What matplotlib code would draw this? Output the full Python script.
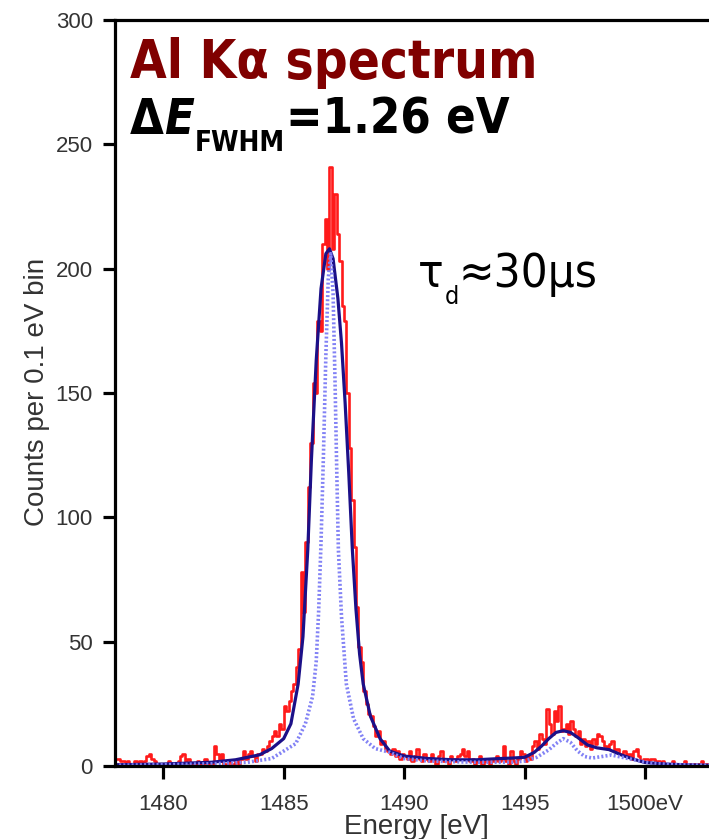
import matplotlib
matplotlib.use("Agg")
import matplotlib.pyplot as plt
import numpy as np

# measured counts, 0.1 eV bins starting at 1478.0 eV (one row per eV)
bin_start = 1478.0
bin_width = 0.1
counts = [
    3, 3, 2, 2, 1, 2, 1, 0, 2, 1,            # 1478
    2, 1, 2, 4, 5, 3, 2, 1, 0, 1,            # 1479
    1, 0, 2, 1, 1, 0, 2, 4, 5, 2,            # 1480
    3, 1, 0, 1, 2, 1, 0, 3, 1, 0,            # 1481
    1, 8, 5, 2, 5, 1, 0, 2, 1, 0,            # 1482
    2, 1, 3, 6, 3, 5, 6, 4, 2, 5,            # 1483
    5, 7, 6, 8, 10, 12, 14, 12, 17, 15,      # 1484
    24, 22, 26, 30, 33, 40, 47, 78, 62, 90,  # 1485
    112, 130, 154, 150, 179, 175, 210, 220, 200, 241,  # 1486
    208, 230, 214, 203, 185, 179, 150, 128, 107, 88,   # 1487
    64, 48, 42, 30, 25, 21, 20, 16, 12, 14,  # 1488
    9, 10, 7, 6, 5, 7, 4, 6, 3, 5,           # 1489
    4, 3, 6, 2, 4, 7, 3, 2, 5, 3,            # 1490
    2, 5, 3, 1, 4, 6, 2, 3, 1, 4,            # 1491
    3, 2, 4, 5, 7, 4, 6, 2, 3, 1,            # 1492
    2, 4, 1, 3, 2, 1, 3, 2, 4, 2,            # 1493
    3, 8, 2, 1, 6, 2, 1, 3, 6, 5,            # 1494
    2, 4, 3, 8, 10, 7, 13, 11, 9, 23,        # 1495
    17, 13, 22, 18, 24, 14, 15, 17, 13, 18,  # 1496
    15, 12, 14, 9, 11, 8, 10, 7, 11, 9,      # 1497
    13, 12, 10, 8, 7, 9, 10, 6, 7, 5,        # 1498
    5, 6, 4, 5, 3, 6, 7, 4, 2, 3,            # 1499
    3, 2, 3, 3, 1, 2, 1, 2, 0, 1,            # 1500
    1, 2, 0, 1, 1, 0, 2, 1, 0, 1,            # 1501
    1, 0, 1, 2, 0, 1,                        # 1502
]

# fitted response (solid navy)
fit_e = [1478.0, 1480.0, 1482.0, 1483.0, 1484.0, 1484.5, 1485.0, 1485.3, 1485.6, 1485.8,
         1486.0, 1486.15, 1486.35, 1486.55, 1486.75, 1486.9, 1487.05, 1487.25, 1487.4, 1487.55,
         1487.7, 1487.85, 1488.0, 1488.15, 1488.3, 1488.6, 1489.0, 1489.4, 1490.0, 1491.0,
         1492.0, 1493.0, 1494.0, 1494.5, 1495.0, 1495.4, 1495.7, 1496.0, 1496.3, 1496.6,
         1496.9, 1497.2, 1497.6, 1498.0, 1498.5, 1499.0, 1499.5, 1500.0, 1500.8, 1501.6, 1502.65]
fit_c = [0.5, 0.8, 1.5, 2.5, 4.5, 7, 11, 17, 33, 52,
         87, 123, 163, 192, 206, 208, 204, 188, 170, 146,
         118, 87, 63, 45, 33, 20, 11, 6, 4, 3,
         2.5, 2.5, 3, 3.2, 3.5, 5.5, 8, 11, 13.5, 14.2,
         13.5, 11.5, 8.5, 7.3, 6.6, 4.5, 2.8, 1.4, 0.8, 0.5, 0.3]

# natural line shape (dotted light blue)
line_e = [1478.0, 1480.0, 1482.0, 1483.5, 1484.5, 1485.0, 1485.5, 1485.9, 1486.2, 1486.35,
          1486.45, 1486.55, 1486.65, 1486.75, 1486.85, 1486.95, 1487.05, 1487.13, 1487.2, 1487.27,
          1487.4, 1487.6, 1487.9, 1488.3, 1488.8, 1489.4, 1490.0, 1491.0, 1493.0, 1494.5,
          1495.0, 1495.5, 1496.0, 1496.3, 1496.6, 1496.9, 1497.2, 1497.5, 1497.8, 1498.2,
          1498.6, 1499.0, 1499.6, 1500.2, 1501.0, 1502.65]
line_c = [0.3, 0.5, 0.9, 1.5, 3, 6, 9, 17, 28, 42,
          62, 90, 125, 165, 196, 206, 190, 155, 120, 87,
          60, 33, 19, 11, 7, 5.5, 3, 2, 1.5, 1.5,
          2, 3.5, 6.5, 9, 11, 9.5, 6, 3.8, 3.2, 3.8,
          4.4, 3.6, 2.4, 1.2, 0.6, 0.3]

x_ticks = [1480, 1485, 1490, 1495, 1500]
x_ticklabels = ["1480", "1485", "1490", "1495", "1500eV"]
y_ticks = [0, 50, 100, 150, 200, 250, 300]

W, H = 709, 839
fig = plt.figure(figsize=(W / 100, H / 100), dpi=100)
ax = fig.add_axes([115 / W, 73 / H, (W - 115) / W, 746 / H])

centers = bin_start + bin_width * (np.arange(len(counts)) + 0.5)
ax.plot(centers, counts, drawstyle="steps-mid", color="#ff1a1a", lw=1.9)
ax.plot(fit_e, fit_c, color="#1c1088", lw=2.3)
ax.plot(line_e, line_c, color="#8282f5", lw=2.6, linestyle=(0, (0.55, 0.6)))

ax.set_xlim(1478.0, 1502.65)
ax.set_ylim(0, 300)
ax.set_xticks(x_ticks)
ax.set_xticklabels(x_ticklabels)
ax.set_yticks(y_ticks)

for side in ["left", "bottom", "top"]:
    ax.spines[side].set_linewidth(2.3)
    ax.spines[side].set_color("black")
ax.spines["right"].set_visible(False)

ax.tick_params(axis="y", direction="out", length=9, width=2.3, pad=7,
               labelcolor="#333333", labelsize=16)
ax.tick_params(axis="x", direction="out", length=9, width=2.3, pad=11,
               labelcolor="#333333", labelsize=16)
for lab in ax.get_xticklabels() + ax.get_yticklabels():
    lab.set_family("Liberation Sans")

# axis labels
fig.text(37 / W, 1 - 392 / H, "Counts per 0.1 eV bin", rotation=90, ha="center", va="center",
         family="Liberation Sans", size=20, color="#333333")
fig.text(416 / W, 1 - 834 / H, "Energy [eV]", ha="center", va="baseline",
         family="Liberation Sans", size=20, color="#333333")

renderer = fig.canvas.get_renderer()


def put(x, y, s, **kw):
    t = fig.text(x / W, 1 - y / H, s, ha="left", va="baseline", **kw)
    return x + t.get_window_extent(renderer).width


cond = {"family": "DejaVu Sans", "stretch": "condensed"}

put(130, 78, "Al Kα spectrum", color="#800000", weight="bold", size=38, **cond)

x = put(130, 134, "Δ", color="black", weight="bold", size=35, **cond)
x = put(x, 134, "E", color="black", weight="bold", style="italic", size=35, **cond)
x = put(x + 1, 151, "FWHM", color="black", weight="bold", size=20, **cond)
put(x + 1, 134, "=1.26 eV", color="black", weight="bold", size=35, **cond)

x = put(418, 287, "τ", color="black", size=34, **cond)
x = put(x + 1, 304, "d", color="black", size=18, **cond)
put(x, 287, "≈30µs", color="black", size=34, **cond)

plt.savefig("out.png", dpi=100)
plt.close()
